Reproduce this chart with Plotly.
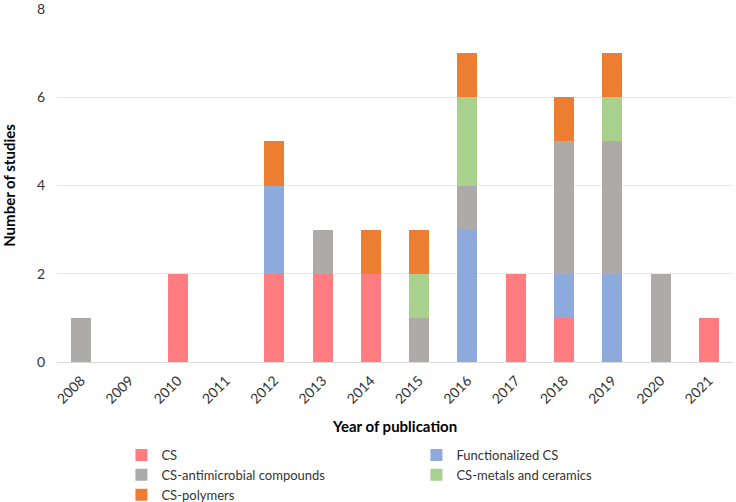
import plotly.graph_objects as go

years = ["2008","2009","2010","2011","2012","2013","2014","2015","2016","2017","2018","2019","2020","2021"]
cs =            [0,0,2,0,2,2,2,0,0,2,1,0,0,1]
functionalized =[0,0,0,0,2,0,0,0,3,0,1,2,0,0]
antimicrobial = [1,0,0,0,0,1,0,1,1,0,3,3,2,0]
metals =        [0,0,0,0,0,0,0,1,2,0,0,1,0,0]
polymers =      [0,0,0,0,1,0,1,1,1,0,1,1,0,0]

series = [
    ("CS", cs, "#FF7C80"),
    ("Functionalized CS", functionalized, "#8EA9DB"),
    ("CS-antimicrobial compounds", antimicrobial, "#AEAAAA"),
    ("CS-metals and ceramics", metals, "#A9D18E"),
    ("CS-polymers", polymers, "#ED7D31"),
]

fig = go.Figure()
for name, vals, col in series:
    fig.add_trace(go.Bar(x=years, y=vals, name=name, marker=dict(color=col, line=dict(width=0))))

font_family = "Lato, Open Sans, sans-serif"
fig.update_layout(
    barmode="stack",
    bargap=0.586,
    width=736, height=502,
    margin=dict(l=57, r=3, t=9, b=140, autoexpand=False),
    plot_bgcolor="white", paper_bgcolor="white",
    font=dict(family=font_family, size=14, color="#333333"),
    xaxis=dict(
        type="category", tickangle=-45, showgrid=False,
        showline=True, linecolor="#D9D9D9", linewidth=1,
        ticks="", tickfont=dict(size=14, color="#333333"), ticklabelstandoff=4,
        title=dict(text="<b>Year of publication</b>", font=dict(size=15, color="#000000"), standoff=15),
    ),
    yaxis=dict(
        range=[0, 8.001], tickvals=[0, 2, 4, 6, 8], showgrid=True, gridcolor="#E8E8E8", gridwidth=1,
        zeroline=False, ticks="", tickfont=dict(size=14, color="#333333"),
        ticklabelstandoff=11, ticklabeloverflow="allow",
        title=dict(text="<b>Number of studies</b>", font=dict(size=15, color="#000000"), standoff=17),
    ),
    legend=dict(
        orientation="h", xref="container", yref="container",
        x=0.165, y=1 - 440 / 502, xanchor="left", yanchor="top",
        entrywidth=250, entrywidthmode="pixels",
        font=dict(size=13, color="#333333"), traceorder="normal",
        itemwidth=30, tracegroupgap=0,
    ),
)

fig.write_html("out.html", config={"displayModeBar": False},
               post_script="document.body.style.margin='0px';")
